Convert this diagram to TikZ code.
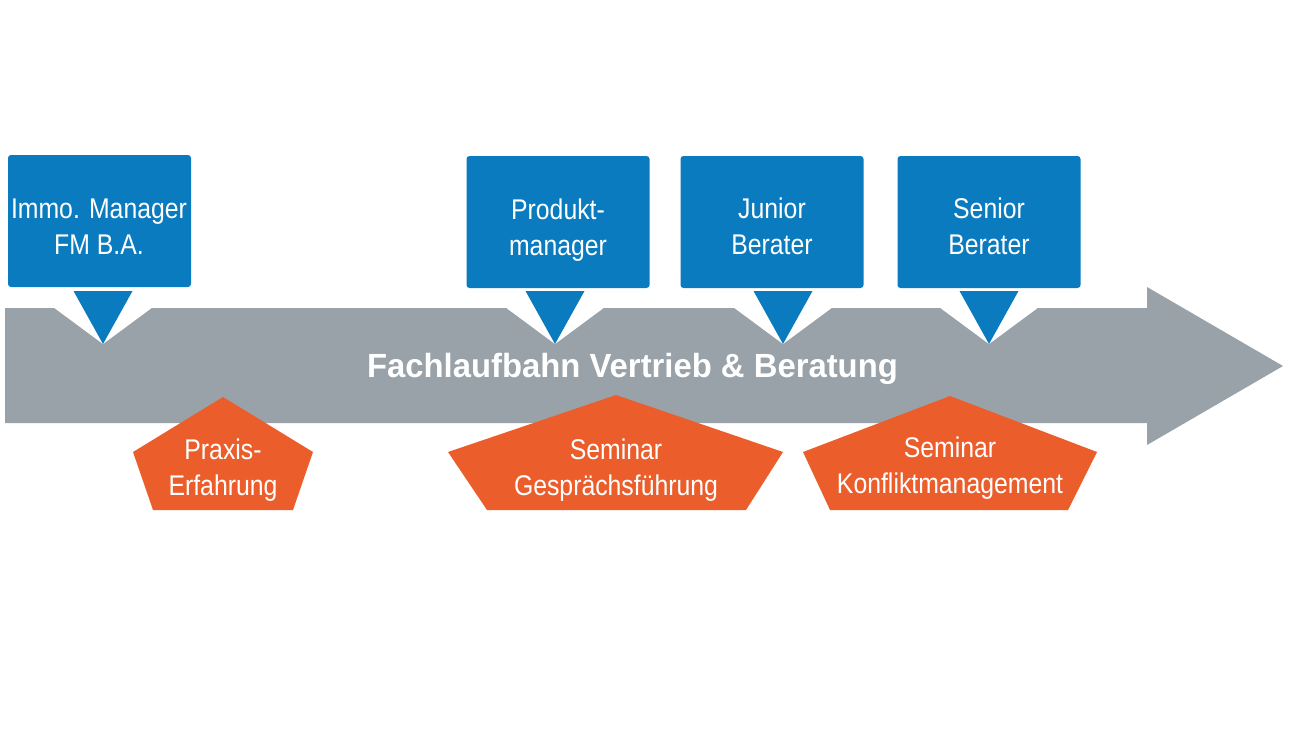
\documentclass[tikz,border=0pt]{standalone}
\usepackage{fontspec}
\setmainfont{Liberation Sans}
\newfontfamily\boxfont{Liberation Sans}[FakeStretch=0.87]
\newfontfamily\titlefont{Liberation Sans}[FakeStretch=0.98]
\usepackage{tikz}
\usetikzlibrary{positioning, calc}

\definecolor{stepblue}{RGB}{11,123,192}
\definecolor{pathgray}{RGB}{152,162,168}
\definecolor{seminarorange}{RGB}{235,94,43}

\begin{document}
\begin{tikzpicture}[
    x=1pt, y=-1pt,
    job/.style={fill=stepblue, rounded corners=3pt, minimum width=183pt,
                minimum height=132pt, inner sep=0pt},
    jobtxt/.style={text=white, align=center, inner sep=0pt,
                   font=\boxfont\fontsize{28.5}{36}\selectfont},
    semtxt/.style={text=white, align=center, inner sep=0pt,
                   font=\boxfont\fontsize{28.5}{36}\selectfont},
    titletxt/.style={text=white, inner sep=0pt,
                     font=\titlefont\bfseries\fontsize{33.5}{40}\selectfont},
    notch/.style={fill=white},
    pointer/.style={fill=stepblue},
    seminar/.style={fill=seminarorange}
]
\useasboundingbox (0,0) rectangle (1300,731);

% career path arrow
\fill[pathgray] (5,308) -- (1147,308) -- (1147,287) -- (1283,366)
    -- (1147,445) -- (1147,423) -- (5,423) -- cycle;

% pointers from the positions onto the path
\foreach \x in {103,555,783,989} {
    \fill[notch] (\x-50,307) -- (\x,344) -- (\x+50,307) -- cycle;
    \fill[pointer] (\x-29.5,291) -- (\x+29.5,291) -- (\x,344) -- cycle;
}

% positions
\node[job] (immo)    at (99.5,221) {};
\node[job] (produkt) at (558,222)  {};
\node[job] (junior)  at (772,222)  {};
\node[job] (senior)  at (989,222)  {};

\node[jobtxt] (immotxt)    at (99,227)  {Immo. Manager\\FM B.A.};
\node[jobtxt] (produkttxt) at (558,230) {Produkt-\\manager};
\node[jobtxt] (juniortxt)  at (772,226.5) {Junior\\Berater};
\node[jobtxt] (seniortxt)  at (989,226) {Senior\\Berater};

\node[titletxt, anchor=base] (title) at (632.5,377) {Fachlaufbahn Vertrieb \& Beratung};

% trainings
\fill[seminar] (223,397) -- (313,452) -- (293,510) -- (153,510) -- (133,452) -- cycle;
\fill[seminar] (616,395) -- (783,452) -- (746,510) -- (487,510) -- (448,452) -- cycle;
\fill[seminar] (950,396) -- (1097,452) -- (1068,510) -- (830,510) -- (803,452) -- cycle;

\node[semtxt] (praxis)   at (223,470) {Praxis-\\Erfahrung};
\node[semtxt] (gespraech) at (616,470) {Seminar\\Gesprächsführung};
\node[semtxt] (konflikt) at (950,468) {Seminar\\Konfliktmanagement};
\end{tikzpicture}
\end{document}
